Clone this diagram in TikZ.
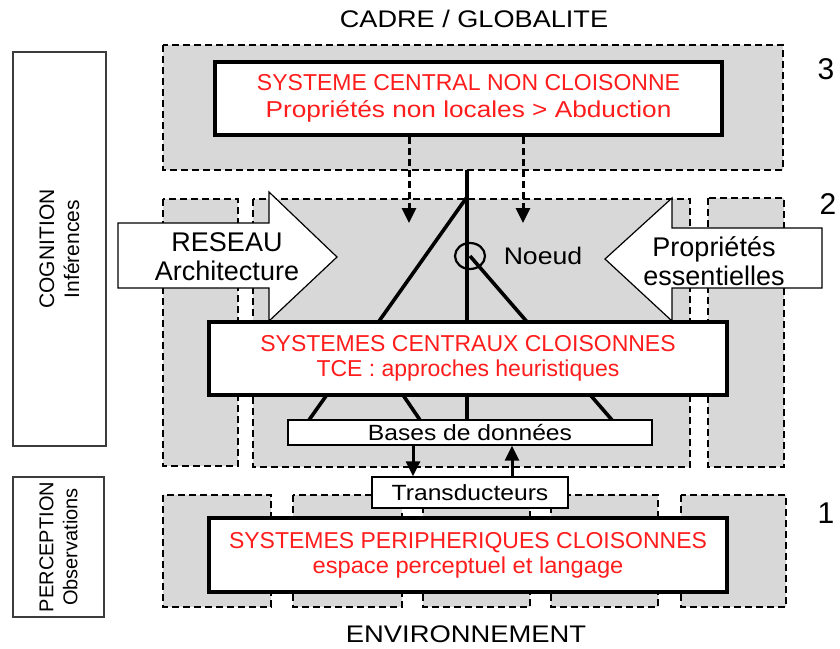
\documentclass[tikz,border=0pt]{standalone}
\usepackage{fontspec}
\setmainfont{Liberation Sans}
\usetikzlibrary{arrows.meta}
\definecolor{panel}{RGB}{216,216,216}
\definecolor{hot}{RGB}{255,28,28}
\definecolor{frame}{RGB}{60,60,60}
% horizontally widened text
\newcommand{\widetext}[2]{\scalebox{#1}[1]{#2}}

\begin{document}
\begin{tikzpicture}[x=1pt,y=-1pt,
  zone/.style={draw=black,fill=panel,line width=2.2pt,dash pattern=on 7pt off 4pt},
  sysbox/.style={draw=black,fill=white,line width=4.5pt,text=hot,align=center,inner sep=0pt},
  smallbox/.style={draw=black,fill=white,line width=1.3pt,inner sep=0pt},
  sidebox/.style={draw=frame,line width=1.3pt,inner sep=0pt},
  bigarrow/.style={draw=black,fill=white,line width=1.2pt,line join=miter},
  link/.style={line width=3.6pt},
  flow/.style={line width=3pt,-{Triangle[length=15pt,width=14pt]}},
  feed/.style={line width=3pt,dash pattern=on 7pt off 4pt,-{Triangle[length=15pt,width=14pt]}},
  lbl/.style={inner sep=0pt,align=center}
]
\useasboundingbox (0,0) rectangle (840,648);

% ---- headings and side labels
\node[lbl,font=\fontsize{24}{28}\selectfont] (cadre) at (474,19) {\widetext{1.13}{CADRE / GLOBALITE}};
\node[lbl,font=\fontsize{24}{28}\selectfont] (env) at (466,634) {\widetext{1.14}{ENVIRONNEMENT}};
\node[lbl,font=\fontsize{30}{34}\selectfont] (n3) at (826,69) {3};
\node[lbl,font=\fontsize{30}{34}\selectfont] (n2) at (828,204) {2};
\node[lbl,font=\fontsize{30}{34}\selectfont] (n1) at (826,513) {1};

\node[sidebox,minimum width=93pt,minimum height=394pt] (cog) at (59.5,249) {};
\node[lbl,rotate=90,font=\fontsize{21}{25}\selectfont] at (cog.center) {COGNITION\\Inférences};
\node[sidebox,minimum width=91pt,minimum height=140pt] (perc) at (58.5,547) {};
\node[lbl,rotate=90,font=\fontsize{20}{24}\selectfont] at (perc.center) {PERCEPTION\\Observations};

% ---- level 3 frame
\draw[zone] (163,45) rectangle (783,170);

% ---- level 2 frames
\draw[zone] (163,199) rectangle (238,466);
\draw[zone] (253,199) rectangle (690,467);
\draw[zone] (708,198) rectangle (784,467);

% ---- level 1 frames
\foreach \a/\b in {163/271,293/402,423/530,551/658,681/786}
  \draw[zone] (\a,495) rectangle (\b,607);

% ---- block arrows entering the central systems
\draw[bigarrow] (118,223) -- (269,223) -- (269,192) -- (337,257) -- (269,321)
  -- (269,288) -- (118,288) -- cycle;
\node[lbl,font=\fontsize{27}{29}\selectfont] (reseau) at (227,257) {RESEAU\\Architecture};
\draw[bigarrow] (822,228) -- (672,228) -- (672,198) -- (605,259) -- (672,321)
  -- (672,288) -- (822,288) -- cycle;
\node[lbl,font=\fontsize{27}{29}\selectfont] (props) at (714,261) {Propriétés\\essentielles};

% ---- boxes
\node[sysbox,minimum width=507pt,minimum height=73pt,font=\fontsize{23}{27}\selectfont] (top) at (468.5,98.5)
  {SYSTEME CENTRAL NON CLOISONNE\\\widetext{1.14}{Propriétés non locales > Abduction}};
\node[smallbox,minimum width=196pt,minimum height=31pt,font=\fontsize{22}{25}\selectfont] (trans) at (470,492.5)
  {\widetext{1.12}{Transducteurs}};

% ---- network lines (drawn behind the central box)
\coordinate (stem) at (467,170);
\coordinate (fork) at (467,197);
\coordinate (knot) at (470,256);
\coordinate (b1) at (309,420);
\coordinate (b2) at (420,420);
\coordinate (b3) at (467,420);
\coordinate (b4) at (612,420);
\coordinate (c2) at (403,395);
\draw[link] (stem) -- (b3);
\draw[link] (fork) -- (b1);
\draw[link] (knot) -- (b4);
\draw[link] (c2) -- (b2);
\draw[line width=2.2pt] (knot) ellipse [x radius=15pt,y radius=13pt];
\node[lbl,font=\fontsize{24}{28}\selectfont] (noeud) at (543,256) {\widetext{1.11}{Noeud}};

\node[sysbox,minimum width=518pt,minimum height=73pt,font=\fontsize{23}{25}\selectfont] (mid) at (468,358.5)
  {SYSTEMES CENTRAUX CLOISONNES\\TCE : approches heuristiques};
\node[sysbox,minimum width=518pt,minimum height=74pt,font=\fontsize{23}{25}\selectfont] (low) at (468,555)
  {SYSTEMES PERIPHERIQUES CLOISONNES\\\widetext{1.03}{espace perceptuel et langage}};

% database box, laid over the line ends
\node[smallbox,minimum width=364pt,minimum height=25pt,font=\fontsize{22}{25}\selectfont] (bases) at (470,432.5)
  {\widetext{1.12}{Bases de données}};

% ---- top-down influence arrows
\coordinate (d1) at (409,223);
\coordinate (d2) at (523,223);
\draw[feed] (top.south -| d1) -- (d1);
\draw[feed] (top.south -| d2) -- (d2);

% ---- exchanges between databases and transducers
\coordinate (xdown) at (413,0);
\coordinate (xup) at (512,0);
\draw[flow] (bases.south -| xdown) -- (trans.north -| xdown);
\draw[flow] (trans.north -| xup) -- (bases.south -| xup);
\end{tikzpicture}
\end{document}
